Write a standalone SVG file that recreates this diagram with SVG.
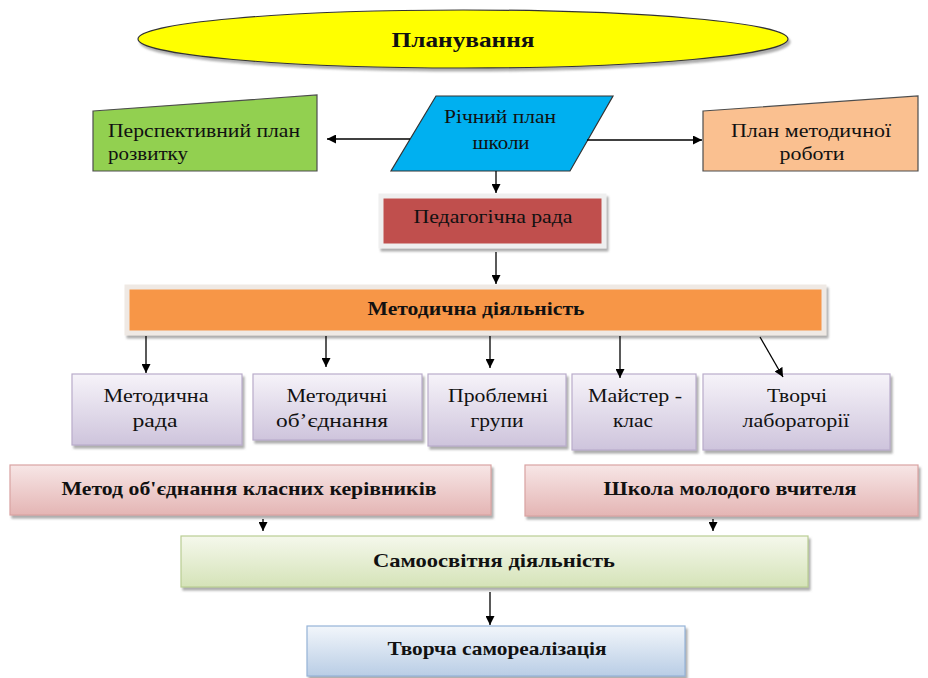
<svg xmlns="http://www.w3.org/2000/svg" width="928" height="678" viewBox="0 0 928 678">
<defs>
<style>
text{fill:#111;}
.r{font-size:19px;text-anchor:middle;}
.b{font-size:19px;font-weight:bold;text-anchor:middle;}
.l{font-size:19px;}
.conn line{stroke:#000;stroke-width:1.3;marker-end:url(#ah);}
.pur{fill:url(#gPur);stroke:#B9ACCB;stroke-width:1.2;filter:url(#sh);}
.pink{fill:url(#gPink);stroke:#D9A3A2;stroke-width:1.2;filter:url(#sh);}
</style>
<marker id="ah" viewBox="0 0 10 10" refX="10" refY="5" markerUnits="userSpaceOnUse" markerWidth="9" markerHeight="9" orient="auto">
<path d="M0,0 L10,5 L0,10 z" fill="#000"/>
</marker>
<filter id="sh" x="-10%" y="-20%" width="125%" height="150%">
<feDropShadow dx="2" dy="3" stdDeviation="1" flood-color="#777" flood-opacity="0.6"/>
</filter>
<linearGradient id="gPur" x1="0" y1="0" x2="0" y2="1"><stop offset="0" stop-color="#F6F3F9"/><stop offset="1" stop-color="#CEC4DC"/></linearGradient>
<linearGradient id="gPink" x1="0" y1="0" x2="0" y2="1"><stop offset="0" stop-color="#F7E6E6"/><stop offset="1" stop-color="#E4B5B4"/></linearGradient>
<linearGradient id="gGreen" x1="0" y1="0" x2="0" y2="1"><stop offset="0" stop-color="#F5F8EC"/><stop offset="1" stop-color="#D5E3B8"/></linearGradient>
<linearGradient id="gBlue" x1="0" y1="0" x2="0" y2="1"><stop offset="0" stop-color="#F2F6FB"/><stop offset="1" stop-color="#B9CDE5"/></linearGradient>
</defs>
<rect width="928" height="678" fill="#fff"/>
<g font-family="Liberation Serif">

<g id="planuvannia">
<ellipse cx="463" cy="39" rx="325" ry="29" fill="#FFFF00" stroke="#333" stroke-width="1.2" filter="url(#sh)"/>
<text class="b" x="463" y="47" font-family="Liberation Serif" style="font-size:21px" textLength="143" lengthAdjust="spacingAndGlyphs">Планування</text>
</g>

<g id="perspektyvnyi">
<polygon points="93,111 317,95 317,171 93,171" fill="#92D050" stroke="#4D4D4D" stroke-width="1.2"/>
<text class="l" x="108" y="137" font-family="Liberation Serif" textLength="192" lengthAdjust="spacingAndGlyphs">Перспективний план</text>
<text class="l" x="108" y="160" font-family="Liberation Serif" textLength="80" lengthAdjust="spacingAndGlyphs">розвитку</text>
</g>

<g id="richnyi">
<polygon points="436,96 613,96 570,171 391,171" fill="#00B0F0" stroke="#333" stroke-width="1.2"/>
<text class="r" x="500" y="123" font-family="Liberation Serif" textLength="112" lengthAdjust="spacingAndGlyphs">Річний план</text>
<text class="r" x="501" y="149" font-family="Liberation Serif" textLength="57" lengthAdjust="spacingAndGlyphs">школи</text>
</g>

<g id="planmetod">
<polygon points="703,111 918,96 918,171 703,171" fill="#FAC090" stroke="#4D4D4D" stroke-width="1.2"/>
<text class="r" x="811" y="137" font-family="Liberation Serif" textLength="160" lengthAdjust="spacingAndGlyphs">План методичної</text>
<text class="r" x="812" y="160" font-family="Liberation Serif" textLength="65" lengthAdjust="spacingAndGlyphs">роботи</text>
</g>

<g id="pedrada">
<rect x="381" y="196" width="223" height="50" fill="#C0504D" stroke="#EFEFEF" stroke-width="5" filter="url(#sh)"/>
<text class="r" x="493" y="223" font-family="Liberation Serif" textLength="159" lengthAdjust="spacingAndGlyphs">Педагогічна рада</text>
</g>

<g id="metoddiyal">
<rect x="127" y="287" width="697" height="46" fill="#F79646" stroke="#EFE9E4" stroke-width="5" filter="url(#sh)"/>
<text class="b" x="476" y="315" font-family="Liberation Serif" textLength="217" lengthAdjust="spacingAndGlyphs">Методична діяльність</text>
</g>

<g id="metodrada">
<rect class="pur" x="72" y="374" width="170" height="71"/>
<text class="r" x="156" y="402" font-family="Liberation Serif" textLength="105" lengthAdjust="spacingAndGlyphs">Методична</text>
<text class="r" x="155" y="427" font-family="Liberation Serif" textLength="45" lengthAdjust="spacingAndGlyphs">рада</text>
</g>

<g id="metodob">
<rect class="pur" x="253" y="374" width="169" height="66"/>
<text class="r" x="337" y="402" font-family="Liberation Serif" textLength="101" lengthAdjust="spacingAndGlyphs">Методичні</text>
<text class="r" x="332" y="427" font-family="Liberation Serif" textLength="112" lengthAdjust="spacingAndGlyphs">об’єднання</text>
</g>

<g id="problemni">
<rect class="pur" x="428" y="374" width="138" height="72"/>
<text class="r" x="498" y="402" font-family="Liberation Serif" textLength="100" lengthAdjust="spacingAndGlyphs">Проблемні</text>
<text class="r" x="497" y="427" font-family="Liberation Serif" textLength="53" lengthAdjust="spacingAndGlyphs">групи</text>
</g>

<g id="maister">
<rect class="pur" x="572" y="374" width="124" height="76"/>
<text class="r" x="635" y="402" font-family="Liberation Serif" textLength="94" lengthAdjust="spacingAndGlyphs">Майстер -</text>
<text class="r" x="633" y="427" font-family="Liberation Serif" textLength="40" lengthAdjust="spacingAndGlyphs">клас</text>
</g>

<g id="tvorchi">
<rect class="pur" x="703" y="374" width="187" height="76"/>
<text class="r" x="797" y="402" font-family="Liberation Serif" textLength="60" lengthAdjust="spacingAndGlyphs">Творчі</text>
<text class="r" x="796" y="427" font-family="Liberation Serif" textLength="107" lengthAdjust="spacingAndGlyphs">лабораторії</text>
</g>

<g id="klasni">
<rect class="pink" x="10" y="465" width="481" height="50"/>
<text class="b" x="249" y="495" font-family="Liberation Serif" textLength="375" lengthAdjust="spacingAndGlyphs">Метод об'єднання класних керівників</text>
</g>

<g id="shkola">
<rect class="pink" x="525" y="465" width="393" height="51"/>
<text class="b" x="730" y="495" font-family="Liberation Serif" textLength="253" lengthAdjust="spacingAndGlyphs">Школа молодого вчителя</text>
</g>

<g id="samoosvita">
<rect x="181" y="536" width="627" height="51" fill="url(#gGreen)" stroke="#B9CD93" stroke-width="1.2" filter="url(#sh)"/>
<text class="b" x="494" y="567" font-family="Liberation Serif" textLength="242" lengthAdjust="spacingAndGlyphs">Самоосвітня діяльність</text>
</g>

<g id="tvorcha">
<rect x="307" y="626" width="378" height="50" fill="url(#gBlue)" stroke="#95B3D7" stroke-width="1.2" filter="url(#sh)"/>
<text class="b" x="497" y="655" font-family="Liberation Serif" textLength="219" lengthAdjust="spacingAndGlyphs">Творча самореалізація</text>
</g>
</g>

<g class="conn" id="connectors">
<line x1="410" y1="139" x2="327" y2="139"/>
<line x1="587" y1="140" x2="702" y2="140"/>
<line x1="496" y1="171" x2="496" y2="193"/>
<line x1="496" y1="252" x2="496" y2="284"/>
<line x1="146" y1="336" x2="146" y2="373"/>
<line x1="326" y1="336" x2="326" y2="367"/>
<line x1="490" y1="336" x2="490" y2="368"/>
<line x1="620" y1="336" x2="620" y2="378"/>
<line x1="760" y1="337" x2="783" y2="377"/>
<line x1="263" y1="519" x2="263" y2="531"/>
<line x1="713" y1="519" x2="713" y2="531"/>
<line x1="490" y1="592" x2="490" y2="625"/>
</g>
</svg>
